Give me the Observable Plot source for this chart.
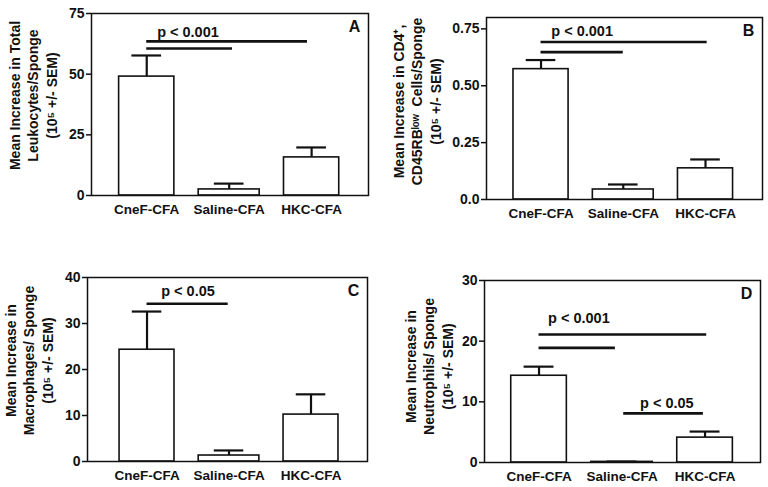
<!DOCTYPE html>
<html><head><meta charset="utf-8">
<script src="https://cdn.jsdelivr.net/npm/d3@7"></script>
<script src="https://cdn.jsdelivr.net/npm/@observablehq/plot@0.6"></script>
<style>
body{margin:0;background:#fff;}
#wrap{position:relative;width:768px;height:487px;overflow:hidden;background:#fff;}
#wrap > div{position:absolute;}
</style></head><body><div id="wrap"></div>
<script>
// ---- data ----
const groups = ["CneF-CFA", "Saline-CFA", "HKC-CFA"];

const leukocytes    = [49.0, 2.5, 15.7];
const leukocytesSem = [8.7, 2.4, 4.1];

const cd4    = [0.573, 0.044, 0.137];
const cd4Sem = [0.040, 0.022, 0.039];

const macrophages    = [24.3, 1.3, 10.2];
const macrophagesSem = [8.3, 1.1, 4.4];

const neutrophils    = [14.3, 0.1, 4.1];
const neutrophilsSem = [1.5, 0.05, 1.0];

const ticksA = [0, 25, 50, 75];
const ticksB = [0, 0.25, 0.5, 0.75];
const ticksC = [0, 10, 20, 30, 40];
const ticksD = [0, 10, 20, 30];

const sigLinesA = [{x1: 0, x2: 1.95, y: 63.5}, {x1: 0, x2: 1.04, y: 60.6}];
const sigTextA  = [{x: 0.5, y: 67.2, text: "p < 0.001"}];
const sigLinesB = [{x1: 0, x2: 2.02, y: 0.692}, {x1: 0, x2: 1.0, y: 0.648}];
const sigTextB  = [{x: 0.5, y: 0.737, text: "p < 0.001"}];
const sigLinesC = [{x1: 0, x2: 0.99, y: 34.3}];
const sigTextC  = [{x: 0.5, y: 37, text: "p < 0.05"}];
const sigLinesD = [{x1: 0, x2: 2.02, y: 21.1}, {x1: 0, x2: 0.92, y: 18.9}, {x1: 1.02, x2: 1.98, y: 8.1}];
const sigTextD  = [{x: 0.48, y: 23.7, text: "p < 0.001"}, {x: 1.54, y: 9.7, text: "p < 0.05"}];

const titleA = "Mean Increase in Total\nLeukocytes/Sponge\n(10\u2075 +/- SEM)";
const titleB = "Mean Increase in CD4\u207A,\nCD45RB\u02E1\u1D52\u02B7  Cells/Sponge\n(10\u2075 +/- SEM)";
const titleC = "Mean Increase in\nMacrophages/ Sponge\n(10\u2075 +/- SEM)";
const titleD = "Mean Increase in\nNeutrophils/ Sponge\n(10\u2075 +/- SEM)";

// ---- layout ----
const FONT = "'Liberation Sans', Arial, Helvetica, sans-serif";
const INK = "#111";

const panels = [
  {id: "A", left: 0, top: 0, width: 384, height: 230, m: [13, 16, 35, 91],
   yDomain: [0, 75], ticks: ticksA, fmt: d => String(d), values: leukocytes, sem: leukocytesSem,
   xDomain: [-0.67, 2.69], title: titleA, tdx: -59, tdy: -9, lines: sigLinesA, texts: sigTextA},
  {id: "B", left: 384, top: 0, width: 384, height: 230, m: [17, 6, 31, 102],
   yDomain: [0, 0.8], ticks: ticksB, fmt: d => d === 0 ? "0.0" : d.toFixed(2), values: cd4, sem: cd4Sem,
   xDomain: [-0.663, 2.693], title: titleB, tdx: -70, tdy: -7, lines: sigLinesB, texts: sigTextB},
  {id: "C", left: 0, top: 240, width: 384, height: 247, m: [37, 17, 26, 87],
   yDomain: [0, 40], ticks: ticksC, fmt: d => String(d), values: macrophages, sem: macrophagesSem,
   xDomain: [-0.726, 2.689], title: titleC, tdx: -59, tdy: -9, lines: sigLinesC, texts: sigTextC},
  {id: "D", left: 384, top: 240, width: 384, height: 247, m: [40, 8, 25, 100],
   yDomain: [0, 30], ticks: ticksD, fmt: d => String(d), values: neutrophils, sem: neutrophilsSem,
   xDomain: [-0.657, 2.668], title: titleD, tdx: -56, tdy: -5, lines: sigLinesD, texts: sigTextD}
];

const wrap = document.getElementById("wrap");

for (const p of panels) {
  const data = groups.map((g, i) => ({i, g, v: p.values[i], e: p.sem[i], half: i === 1 ? 0.37 : 0.335}));
  const chart = Plot.plot({
    width: p.width, height: p.height,
    marginTop: p.m[0], marginRight: p.m[1], marginBottom: p.m[2], marginLeft: p.m[3],
    style: {fontFamily: FONT, fontWeight: "bold", fontSize: "14px", color: INK, background: "white", overflow: "visible"},
    x: {domain: p.xDomain, axis: null},
    y: {domain: p.yDomain, axis: null},
    marks: [
      Plot.rect(data, {x1: d => d.i - d.half, x2: d => d.i + d.half, y1: 0, y2: "v", fill: "white", stroke: INK, strokeWidth: 1.6}),
      Plot.ruleX(data, {x: "i", y1: "v", y2: d => d.v + d.e, stroke: INK, strokeWidth: 2.2}),
      Plot.ruleY(data, {y: d => d.v + d.e, x1: d => d.i - 0.18, x2: d => d.i + 0.18, stroke: INK, strokeWidth: 2.2}),
      Plot.ruleY(p.lines, {y: "y", x1: "x1", x2: "x2", stroke: INK, strokeWidth: 2.6}),
      Plot.text(p.texts, {x: "x", y: "y", text: "text", fontSize: 14.5, fontWeight: "bold", fill: INK}),
      Plot.frame({stroke: INK, strokeWidth: 1.5}),
      Plot.axisY({ticks: p.ticks, tickFormat: p.fmt, tickSize: 5, tickPadding: 2, fontSize: 14, label: null, stroke: INK, strokeWidth: 1.5}),
      Plot.axisX({ticks: [0, 1, 2], tickFormat: i => groups[i], tickSize: 0, tickPadding: 9, fontSize: 13.5, label: null}),
      Plot.text([p.id], {frameAnchor: "top-right", dx: -14, dy: 13, fontSize: 16, fontWeight: "bold", textAnchor: "middle", lineAnchor: "middle", fill: INK}),
      Plot.text([p.title], {frameAnchor: "left", dx: p.tdx, dy: p.tdy, rotate: -90, lineHeight: 1.32, fontSize: 14, fontWeight: "bold", textAnchor: "middle", lineAnchor: "middle", fill: INK})
    ]
  });
  const holder = document.createElement("div");
  holder.style.left = p.left + "px";
  holder.style.top = p.top + "px";
  holder.appendChild(chart);
  wrap.appendChild(holder);
}
</script>
</body></html>
